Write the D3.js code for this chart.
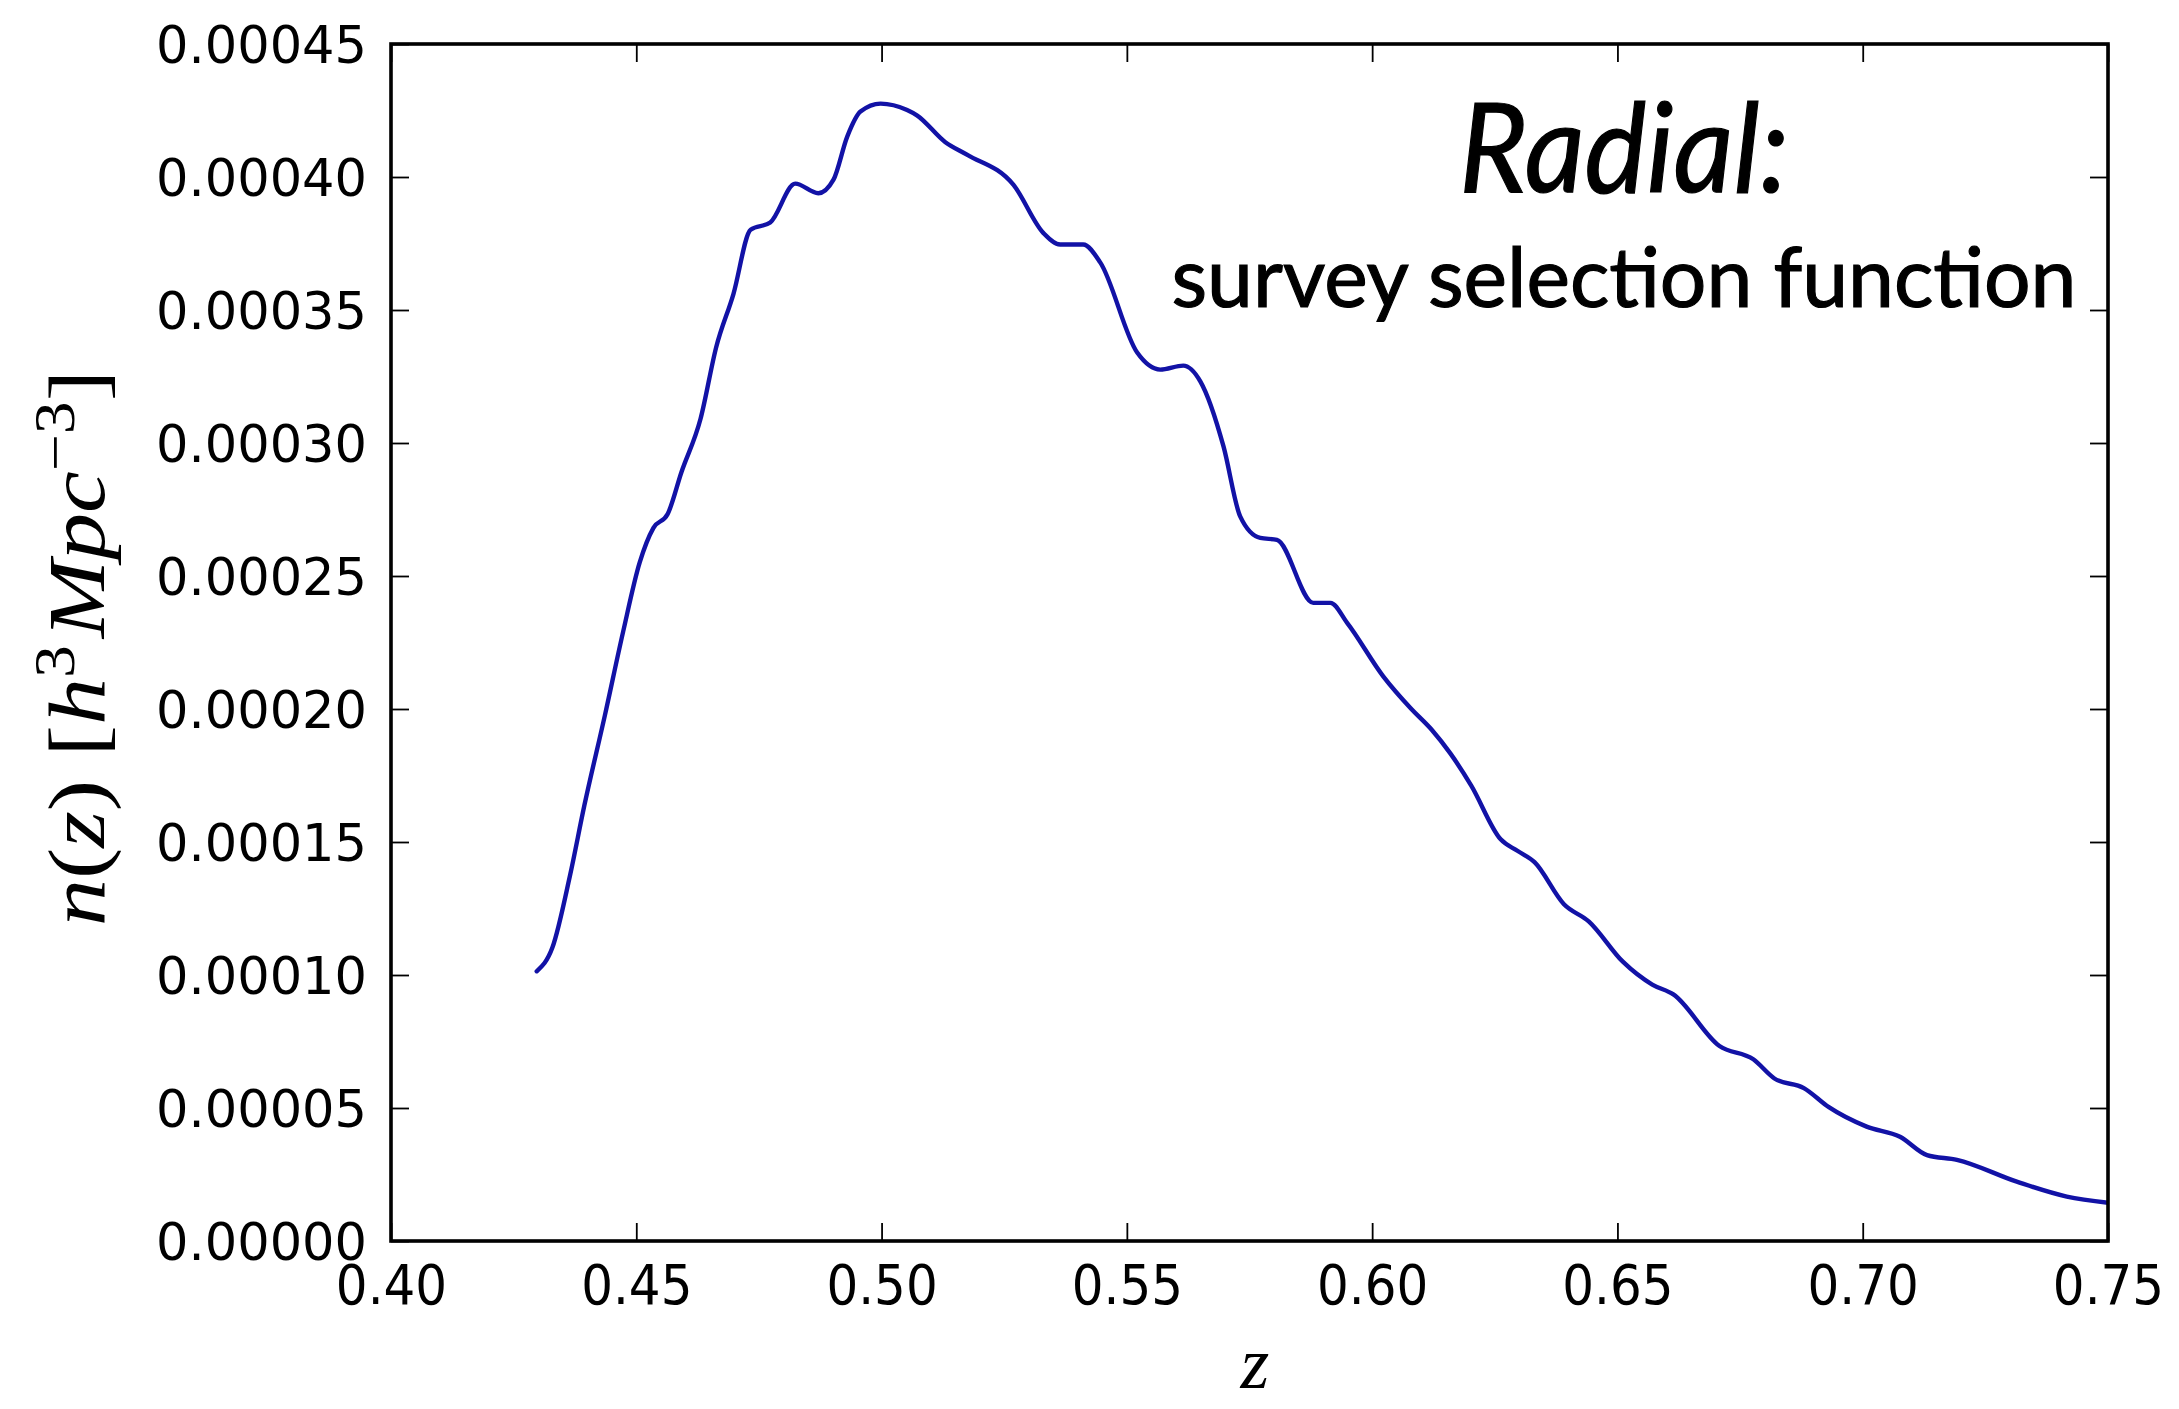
<!DOCTYPE html>
<html>
<head>
<meta charset="utf-8">
<script src="https://cdn.jsdelivr.net/npm/d3@7"></script>
<style>
  body { margin: 0; background: #fff; }
  svg { display: block; }
</style>
</head>
<body>
<svg id="chart" width="2179" height="1409"></svg>
<script>
// Redshift samples of the radial selection function
const redshift = [
  0.4297, 0.4329, 0.4365, 0.4394, 0.4436, 0.4473, 0.4507, 0.4535, 0.4564, 0.4592,
  0.4631, 0.4663, 0.4698, 0.4733, 0.4773, 0.4824, 0.4871, 0.4902, 0.4930,
  0.4957, 0.4998, 0.5052, 0.5072, 0.5130, 0.5174, 0.5269, 0.5330, 0.5364, 0.5411,
  0.5446, 0.5521, 0.5568, 0.5615, 0.5650, 0.5697, 0.5731, 0.5772, 0.5806, 0.5880,
  0.5915, 0.5949, 0.6023, 0.6079, 0.6121, 0.6159, 0.6202, 0.6262, 0.6296, 0.6331,
  0.6391, 0.6442, 0.6511, 0.6571, 0.6614, 0.6708, 0.6777, 0.6820, 0.6880, 0.6931,
  0.7008, 0.7076, 0.7131, 0.7192, 0.7314, 0.7416, 0.7500
];
// Number density n(z) in h^3 Mpc^-3
const density = [
  10.14e-5, 11.03e-5, 13.75e-5, 16.36e-5, 19.76e-5, 22.89e-5, 25.51e-5, 26.81e-5, 27.33e-5, 28.90e-5,
  30.91e-5, 33.61e-5, 35.60e-5, 38.02e-5, 38.29e-5, 39.75e-5, 39.39e-5, 39.90e-5, 41.52e-5,
  42.46e-5, 42.76e-5, 42.52e-5, 42.32e-5, 41.31e-5, 40.84e-5, 39.70e-5, 37.89e-5, 37.46e-5, 37.46e-5,
  36.78e-5, 33.40e-5, 32.76e-5, 32.91e-5, 32.31e-5, 29.87e-5, 27.24e-5, 26.43e-5, 26.36e-5, 23.99e-5,
  23.99e-5, 23.24e-5, 21.22e-5, 20.02e-5, 19.23e-5, 18.34e-5, 17.12e-5, 15.10e-5, 14.67e-5, 14.24e-5,
  12.66e-5, 12.01e-5, 10.50e-5, 9.64e-5, 9.27e-5, 7.33e-5, 6.83e-5, 6.11e-5, 5.75e-5, 5.03e-5,
  4.30e-5, 3.92e-5, 3.23e-5, 3.05e-5, 2.23e-5, 1.67e-5, 1.44e-5
];
const xTicks = [0.40, 0.45, 0.50, 0.55, 0.60, 0.65, 0.70, 0.75];
const yTicks = [0, 0.00005, 0.00010, 0.00015, 0.00020, 0.00025, 0.00030, 0.00035, 0.00040, 0.00045];

const svg = d3.select("#chart");
const W = 2179, H = 1409;
const m = { left: 391, right: W - 2108, top: 44, bottom: H - 1241 };
const iw = W - m.left - m.right, ih = H - m.top - m.bottom;

svg.append("rect").attr("width", W).attr("height", H).attr("fill", "#fff");

const x = d3.scaleLinear().domain([0.40, 0.75]).range([0, iw]);
const y = d3.scaleLinear().domain([0, 0.00045]).range([ih, 0]);

const g = svg.append("g").attr("transform", `translate(${m.left},${m.top})`);

g.append("clipPath").attr("id", "plot-clip")
  .append("rect").attr("width", iw).attr("height", ih);

const tickLen = 18;
const tickFont = "'DejaVu Sans', Verdana, sans-serif";

// Bottom axis with labels
const gx = g.append("g").attr("transform", `translate(0,${ih})`)
  .call(d3.axisBottom(x).tickValues(xTicks).tickFormat(d3.format(".2f"))
    .tickSizeInner(-tickLen).tickSizeOuter(0));
gx.selectAll("text")
  .attr("y", 56.5).attr("dy", 0)
  .attr("transform", "scale(1,1.12)")
  .style("font-family", tickFont).style("font-size", "50px").attr("fill", "#000");

// Top axis: ticks only
g.append("g")
  .call(d3.axisTop(x).tickValues(xTicks).tickFormat("")
    .tickSizeInner(-tickLen).tickSizeOuter(0));

// Left axis with labels
const gy = g.append("g")
  .call(d3.axisLeft(y).tickValues(yTicks).tickFormat(d3.format(".5f"))
    .tickSizeInner(-tickLen).tickSizeOuter(0).tickPadding(24));
gy.selectAll("text")
  .attr("dy", "0.36em")
  .style("font-family", tickFont).style("font-size", "51px").attr("fill", "#000");

// Right axis: ticks only
g.append("g").attr("transform", `translate(${iw},0)`)
  .call(d3.axisRight(y).tickValues(yTicks).tickFormat("")
    .tickSizeInner(-tickLen).tickSizeOuter(0));

g.selectAll(".domain").remove();
g.selectAll(".tick line").attr("stroke", "#000").attr("stroke-width", 1.8);

// Selection-function curve
const line = d3.line()
  .x((d, i) => x(redshift[i]))
  .y(d => y(d))
  .curve(d3.curveMonotoneX);

g.append("path")
  .datum(density)
  .attr("clip-path", "url(#plot-clip)")
  .attr("d", line)
  .attr("fill", "none")
  .attr("stroke", "#1212a6")
  .attr("stroke-width", 4.4)
  .attr("stroke-linejoin", "round")
  .attr("stroke-linecap", "round");

// Plot frame
g.append("rect")
  .attr("width", iw).attr("height", ih)
  .attr("fill", "none").attr("stroke", "#000").attr("stroke-width", 3.6);

// Axis labels
const mathFont = "'Liberation Serif', 'DejaVu Serif', serif";
svg.append("text")
  .attr("x", 1255).attr("y", 1388)
  .attr("text-anchor", "middle")
  .style("font-family", mathFont).style("font-style", "italic").style("font-size", "74px")
  .text("z");

const yl = svg.append("text")
  .attr("transform", "translate(104,648) rotate(-90)")
  .attr("text-anchor", "middle")
  .attr("textLength", 556).attr("lengthAdjust", "spacingAndGlyphs")
  .style("font-family", mathFont).style("font-size", "80px");
yl.append("tspan").style("font-style", "italic").text("n");
yl.append("tspan").text("(");
yl.append("tspan").style("font-style", "italic").text("z");
yl.append("tspan").text(") [");
yl.append("tspan").style("font-style", "italic").text("h");
yl.append("tspan").attr("dy", -30).style("font-size", "56px").text("3");
yl.append("tspan").attr("dy", 30).attr("dx", 6).style("font-style", "italic").text("Mpc");
yl.append("tspan").attr("dy", -30).style("font-size", "56px").text("\u22123");
yl.append("tspan").attr("dy", 30).text("]");

// Annotation
const noteFont = "Lato, 'Open Sans', sans-serif";
svg.append("text")
  .attr("x", 1624).attr("y", 192)
  .attr("text-anchor", "middle")
  .attr("textLength", 330).attr("lengthAdjust", "spacingAndGlyphs")
  .attr("stroke", "#000").attr("stroke-width", 1.2)
  .style("font-family", noteFont).style("font-style", "italic").style("font-size", "124px")
  .text("Radial:");
svg.append("text")
  .attr("x", 1624).attr("y", 307)
  .attr("text-anchor", "middle")
  .attr("textLength", 905).attr("lengthAdjust", "spacingAndGlyphs")
  .attr("stroke", "#000").attr("stroke-width", 1.2)
  .style("font-family", noteFont).style("font-size", "84px")
  .text("survey selection function");
</script>
</body>
</html>
